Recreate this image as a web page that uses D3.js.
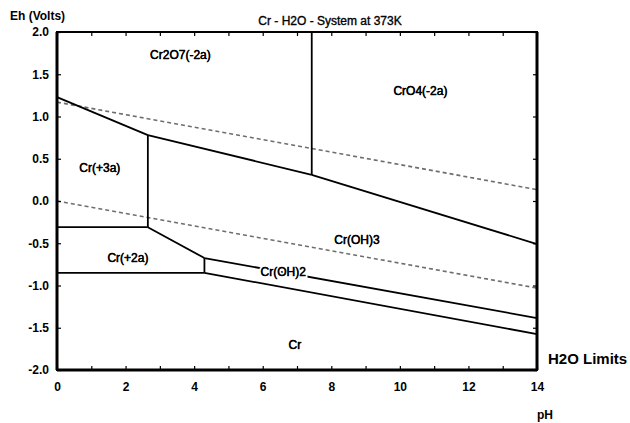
<!DOCTYPE html>
<html>
<head>
<meta charset="utf-8">
<script src="https://cdn.jsdelivr.net/npm/d3@7"></script>
<style>
  body { margin: 0; background: #fff; }
  svg { font-family: "Liberation Sans", Arial, sans-serif; }
</style>
</head>
<body>
<div id="chart"></div>
<script>
// Pourbaix diagram: Cr - H2O at 373K
const xMinorTicks = d3.range(0, 15);
const xLabelTicks = [0, 2, 4, 6, 8, 10, 12, 14];
const yTicks = [2.0, 1.5, 1.0, 0.5, 0.0, -0.5, -1.0, -1.5, -2.0];

// water stability limits (dashed)
const waterUpper = [[0, 1.17], [14, 0.135]];
const waterLower = [[0, 0.0], [14, -1.03]];

// phase boundaries [pH, Eh]
const cr2o7Cr3 = [[0, 1.23], [2.65, 0.78]];
const cr2o7CrOH3 = [[2.65, 0.78], [7.43, 0.31]];
const cr2o7CrO4 = [[7.43, 0.31], [7.43, 2.0]];
const cro4CrOH3 = [[7.43, 0.31], [14, -0.51]];
const cr3CrOH3 = [[2.65, 0.78], [2.65, -0.31]];
const cr3Cr2 = [[0, -0.31], [2.65, -0.31]];
const cr2CrOH3 = [[2.65, -0.31], [4.3, -0.675]];
const crOH2CrOH3 = [[4.3, -0.675], [14, -1.385]];
const cr2CrOH2 = [[4.3, -0.675], [4.3, -0.85]];
const cr2Cr = [[0, -0.85], [4.3, -0.85]];
const crOH2Cr = [[4.3, -0.85], [14, -1.575]];

const boundaries = [cr2o7Cr3, cr2o7CrOH3, cr2o7CrO4, cro4CrOH3, cr3CrOH3,
  cr3Cr2, cr2CrOH3, crOH2CrOH3, cr2CrOH2, cr2Cr, crOH2Cr];

const regionNames = ["Cr2O7(-2a)", "CrO4(-2a)", "Cr(+3a)", "Cr(+2a)", "Cr(OH)3", "Cr(OH)2", "Cr"];
const regionPH = [3.6, 10.6, 1.25, 2.07, 8.75, 6.6, 6.94];
const regionEh = [1.73, 1.31, 0.39, -0.67, -0.46, -0.84, -1.70];

const W = 630, H = 423;
const margin = { top: 32, right: 93, bottom: 53, left: 57 };
const width = W - margin.left - margin.right;
const height = H - margin.top - margin.bottom;

const svg = d3.select("#chart").append("svg")
  .attr("width", W).attr("height", H);

const g = svg.append("g")
  .attr("transform", `translate(${margin.left},${margin.top})`);

const x = d3.scaleLinear().domain([0, 14]).range([0, width]);
const y = d3.scaleLinear().domain([-2, 2]).range([height, 0]);

const line = d3.line().x(d => x(d[0])).y(d => y(d[1]));

// water limits
[waterUpper, waterLower].forEach(pts => {
  g.append("path")
    .attr("d", line(pts))
    .attr("fill", "none")
    .attr("stroke", "#6e6e6e")
    .attr("stroke-width", 1.6)
    .attr("stroke-dasharray", "4,3");
});

// boundaries
g.selectAll(".bound")
  .data(boundaries)
  .join("path")
  .attr("class", "bound")
  .attr("d", d => line(d))
  .attr("fill", "none")
  .attr("stroke", "#000")
  .attr("stroke-width", 1.8);

// region labels
g.selectAll(".region")
  .data(regionNames)
  .join("text")
  .attr("class", "region")
  .attr("x", (d, i) => x(regionPH[i]))
  .attr("y", (d, i) => y(regionEh[i]))
  .attr("dy", "0.35em")
  .attr("text-anchor", "middle")
  .attr("font-size", "12px")
  .attr("stroke", "#fff")
  .attr("stroke-width", d => d === "Cr(OH)2" ? 4 : 0)
  .attr("paint-order", "stroke")
  .attr("fill", "#000")
  .text(d => d);

// darken label glyphs a touch, like the source
g.selectAll(".region").clone(true)
  .attr("stroke", "#000").attr("stroke-width", 0.35);

// axes with inward ticks
const fmtY = d => d.toFixed(1);

const xb = g.append("g").attr("transform", `translate(0,${height})`)
  .call(d3.axisBottom(x).tickValues(xMinorTicks).tickSize(-4).tickPadding(12)
    .tickFormat(d => xLabelTicks.includes(d) ? d : ""));
const xt = g.append("g")
  .call(d3.axisTop(x).tickValues(xMinorTicks).tickSize(-4).tickFormat(""));
const yl = g.append("g")
  .call(d3.axisLeft(y).tickValues(yTicks).tickSize(-4).tickPadding(8).tickFormat(fmtY));
const yr = g.append("g").attr("transform", `translate(${width},0)`)
  .call(d3.axisRight(y).tickValues(yTicks).tickSize(-4).tickFormat(""));

[xb, xt, yl, yr].forEach(a => {
  a.select(".domain").remove();
  a.selectAll(".tick line").attr("stroke", "#000").attr("stroke-width", 1.2);
  a.selectAll("text")
    .attr("font-family", "Liberation Sans, Arial, sans-serif")
    .attr("font-size", "12px")
    .attr("font-weight", "bold")
    .attr("fill", "#000");
});

// frame
g.append("rect")
  .attr("width", width).attr("height", height)
  .attr("fill", "none").attr("stroke", "#000").attr("stroke-width", 2);
[[0, 0, 0, height], [0, height, width, height], [width, 0, width, height]].forEach(s => {
  g.append("line").attr("x1", s[0]).attr("y1", s[1]).attr("x2", s[2]).attr("y2", s[3])
    .attr("stroke", "#000").attr("stroke-width", 3);
});

// titles
svg.append("text")
  .attr("x", 330).attr("y", 25)
  .attr("text-anchor", "middle")
  .attr("font-size", "12px")
  .attr("stroke", "#000").attr("stroke-width", 0.35)
  .text("Cr - H2O - System at 373K");

svg.append("text")
  .attr("x", 10).attr("y", 20)
  .attr("font-size", "12px")
  .attr("font-weight", "bold")
  .text("Eh (Volts)");

svg.append("text")
  .attr("x", 548).attr("y", 364)
  .attr("font-size", "15px")
  .attr("font-weight", "bold")
  .text("H2O Limits");

svg.append("text")
  .attr("x", 545).attr("y", 419)
  .attr("text-anchor", "middle")
  .attr("font-size", "12px")
  .attr("font-weight", "bold")
  .text("pH");
</script>
</body>
</html>
